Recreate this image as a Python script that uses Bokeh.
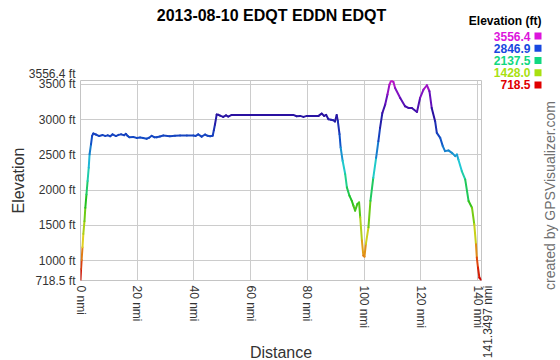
import math
from bokeh.plotting import figure
from bokeh.models import Range1d, FixedTicker, PrintfTickFormatter, Label, ColumnDataSource
from bokeh.layouts import column
from bokeh.embed import file_html
from bokeh.resources import INLINE

# ---- data ----
dist = [0.0, 0.2, 0.4, 0.7, 1.0, 1.4, 1.7, 2.1, 2.5, 2.9, 3.2, 3.7, 4.1, 4.5,
        5.4, 6.6, 7.8, 8.7, 9.6, 10.5, 11.3, 12.5, 13.4, 14.3, 15.4, 16.0, 16.6, 17.2,
        18.6, 19.8, 21.0, 22.1, 23.3, 24.2, 25.1, 26.0, 26.8, 28.0, 29.2, 31.5, 33.3,
        35.1, 37.5, 39.8, 40.6, 41.5, 42.7, 43.9, 44.8, 45.7, 46.6, 47.0, 47.4, 48.0,
        48.6, 49.2, 50.3, 51.3, 52.1, 53.3, 60.0, 70.0, 75.0, 76.2, 77.4, 78.6, 79.8,
        82.0, 83.9, 85.0, 85.9, 86.6, 87.4, 88.3, 89.1, 89.7, 90.3, 90.7, 91.3, 91.7,
        92.4, 93.3, 93.9, 94.8, 95.6, 96.2, 96.8, 97.6, 98.2, 98.6, 99.2, 99.7, 100.1,
        100.6, 101.5, 102.2, 103.2, 104.2, 105.0, 105.6, 106.4, 107.4, 108.2, 108.9,
        109.4, 109.8, 110.3, 110.9, 112.7, 114.4, 115.6, 116.8, 118.6, 119.7, 120.9,
        122.1, 123.0, 123.8, 125.0, 125.6, 126.8, 127.7, 128.5, 129.7, 130.9, 132.1,
        132.7, 133.2, 134.4, 135.6, 136.8, 138.0, 138.8, 139.4, 139.7, 140.1, 140.6,
        141.3497]
elev = [722, 880, 1010, 1190, 1380, 1560, 1750, 1940, 2130, 2320, 2510, 2650, 2770, 2805,
        2790, 2768, 2782, 2770, 2778, 2765, 2792, 2768, 2785, 2792, 2780, 2800, 2770, 2752,
        2755, 2742, 2748, 2740, 2730, 2745, 2772, 2752, 2750, 2762, 2775, 2766, 2772,
        2776, 2775, 2776, 2770, 2792, 2760, 2790, 2772, 2766, 2772, 2850, 2932, 3073,
        3070, 3058, 3040, 3063, 3045, 3068, 3068, 3068, 3068, 3049, 3054, 3040, 3054,
        3052, 3054, 3087, 3054, 3068, 3007, 3000, 2993, 2974, 3068, 2983, 2795, 2606,
        2417, 2229, 2040, 1922, 1851, 1780, 1710, 1804, 1827, 1615, 1285, 1072, 1058,
        1237, 1473, 1850, 2176, 2459, 2696, 2884, 3096, 3215, 3357, 3498,
        3545, 3556.4, 3535, 3450, 3309, 3191, 3167, 3167, 3110, 3309, 3428,
        3489, 3404, 3167, 2979, 2813, 2742, 2625, 2554, 2564, 2530, 2483,
        2507, 2436, 2271, 2153, 1846, 1751, 1516, 1232, 1044, 903, 760,
        718.5]
x_ticks = [0, 20, 40, 60, 80, 100, 120, 140]
y_ticks = [1000, 1500, 2000, 2500, 3000, 3500]
dist_max = 141.3497
elev_min, elev_max = 718.5, 3556.4
legend_vals = ["3556.4", "2846.9", "2137.5", "1428.0", "718.5"]
legend_colors = ["#dc14dc", "#1848e0", "#10d880", "#a8e010", "#e00000"]
title_text = "2013-08-10 EDQT EDDN EDQT"
legend_title = "Elevation (ft)"
credit_text = "created by GPSVisualizer.com"
x_label = "Distance"
y_label = "Elevation"

# colour ramp (low -> high)
ramp = [(0.0, "#d00000"), (0.1, "#e05010"), (0.2, "#e0d020"), (0.3, "#90d010"),
        (0.4, "#20c020"), (0.5, "#20d090"), (0.58, "#20c8d8"), (0.7, "#1050c8"),
        (0.83, "#2a10a0"), (0.92, "#7010c0"), (1.0, "#c818c8")]

def hex2rgb(h):
    return [int(h[i:i + 2], 16) for i in (1, 3, 5)]

def ramp_color(t):
    t = min(max(t, 0.0), 1.0)
    for (t0, c0), (t1, c1) in zip(ramp[:-1], ramp[1:]):
        if t <= t1:
            f = (t - t0) / (t1 - t0) if t1 > t0 else 0
            a, b = hex2rgb(c0), hex2rgb(c1)
            return "#%02x%02x%02x" % tuple(int(round(a[i] + (b[i] - a[i]) * f)) for i in range(3))
    return ramp[-1][1]

x0 = dist[:-1]; x1 = dist[1:]
y0 = elev[:-1]; y1 = elev[1:]
cols = [ramp_color(((a + b) / 2 - elev_min) / (elev_max - elev_min)) for a, b in zip(y0, y1)]
src = ColumnDataSource(dict(x0=x0, x1=x1, y0=y0, y1=y1, c=cols))

FONT = "Liberation Sans"
W, H = 560, 360

# ---------------- main chart ----------------
p = figure(width=W, height=H, output_backend="svg", toolbar_location=None,
           x_range=Range1d(0, dist_max), y_range=Range1d(elev_min, elev_max),
           min_border_left=80, min_border_right=79, min_border_top=80, min_border_bottom=80)
p.frame_align = False
p.title.visible = False
p.background_fill_color = "white"
p.border_fill_color = "white"
p.outline_line_color = "#c4c4c4"

p.segment("x0", "y0", "x1", "y1", source=src, line_color="c", line_width=2, line_cap="round")

for ax in (p.xaxis[0], p.yaxis[0]):
    ax.axis_line_color = None
    ax.major_tick_line_color = None
    ax.minor_tick_line_color = None
    ax.major_tick_out = 0
    ax.major_tick_in = 0
    ax.minor_tick_out = 0
    ax.minor_tick_in = 0
    ax.major_label_text_font = FONT
    ax.major_label_text_font_size = "12px"
    ax.major_label_text_color = "#333333"
    ax.axis_label_text_font = FONT
    ax.axis_label_text_font_size = "16px"
    ax.axis_label_text_font_style = "normal"
    ax.axis_label_text_color = "#333333"

p.xaxis.ticker = FixedTicker(ticks=x_ticks)
p.xaxis.formatter = PrintfTickFormatter(format="%d nmi")
p.xaxis.major_label_orientation = "vertical"
p.xaxis.major_label_standoff = 5

p.yaxis.ticker = FixedTicker(ticks=[elev_min] + y_ticks)
p.yaxis.formatter = PrintfTickFormatter(format="%d ft")
p.yaxis.major_label_overrides = {elev_min: "%.1f ft" % elev_min}
p.yaxis.major_label_standoff = 5
p.yaxis.axis_label = y_label
p.yaxis.axis_label_standoff = 5

p.xgrid.ticker = FixedTicker(ticks=x_ticks)
p.ygrid.ticker = FixedTicker(ticks=y_ticks)
p.grid.grid_line_color = "#cccccc"

# ---------------- transparent overlay for texts outside the frame ----------------
o = figure(width=W, height=H, output_backend="svg", toolbar_location=None,
           x_range=Range1d(0, W), y_range=Range1d(H, 0),
           x_axis_type=None, y_axis_type=None,
           min_border_left=0, min_border_right=0, min_border_top=0, min_border_bottom=0,
           styles={"margin-top": "-%dpx" % H})
o.frame_align = False
o.title.visible = False
o.grid.visible = False
o.outline_line_color = None
o.background_fill_color = None
o.border_fill_color = None

def lab(text, x, y, **kw):
    opts = dict(text_font=FONT, text_font_size="12px", text_color="#333333",
                text_baseline="middle")
    opts.update(kw)
    o.add_layout(Label(x=x, y=y, text=text, **opts))

# end-of-range tick labels
lab("%.1f ft" % elev_max, 75, 73, text_align="right")
lab("%.4f nmi" % dist_max, 487, 285, text_align="right", angle=math.pi / 2)

# x axis title
lab(x_label, 280.5, 352, text_align="center", text_font_size="16px")

# title
lab(title_text, 271, 15, text_align="center", text_font_size="16px",
    text_font_style="bold", text_color="#000000")

# elevation colour key
lab(legend_title, 541, 20.5, text_align="right", text_font_size="12px",
    text_font_style="bold", text_color="#000000")
key_y = [35.5, 47.8, 60, 72.2, 84.4]
for v, c, yy in zip(legend_vals, legend_colors, key_y):
    lab(v, 530, yy, text_align="right", text_font_style="bold", text_color=c)
o.quad(left=[534] * 5, right=[541] * 5, top=[y - 3.5 for y in key_y],
       bottom=[y + 3.5 for y in key_y], fill_color=legend_colors, line_color=None)

# credit
lab(credit_text, 549, 195, text_align="center", angle=math.pi / 2,
    text_font_size="14px", text_color="#707070")

layout = column(p, o, spacing=0)
open("out.html", "w").write(file_html(layout, INLINE))
